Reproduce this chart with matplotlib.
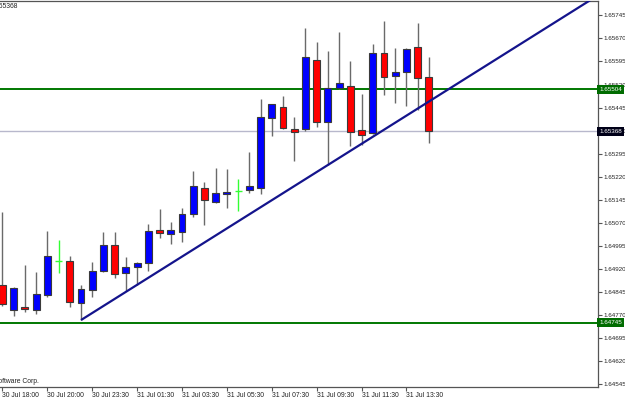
import numpy as np
import matplotlib
matplotlib.use("Agg")
import matplotlib.pyplot as plt

plt.rcParams['font.family'] = ['Liberation Sans', 'DejaVu Sans']

# M30 candles, oldest first
opens = [1.64867, 1.64786, 1.64797, 1.64786, 1.64835, 1.64946, 1.64946, 1.64808,
         1.64851, 1.64913, 1.64998, 1.64905, 1.64925, 1.64938, 1.65046, 1.65032,
         1.65041, 1.65098, 1.65183, 1.65139, 1.65164, 1.65173, 1.65177, 1.65184,
         1.65412, 1.65446, 1.65374, 1.65374, 1.65599, 1.65397, 1.65510, 1.65516,
         1.65372, 1.65361, 1.65622, 1.65549, 1.65560, 1.65641, 1.65544]
highs = [1.65105, 1.64861, 1.64932, 1.64911, 1.65044, 1.65014, 1.64960, 1.64866,
         1.64943, 1.65040, 1.65041, 1.64958, 1.64943, 1.65065, 1.65114, 1.65073,
         1.65117, 1.65239, 1.65204, 1.65247, 1.65244, 1.65213, 1.65300, 1.65472,
         1.65458, 1.65481, 1.65414, 1.65703, 1.65660, 1.65630, 1.65690, 1.65595,
         1.65489, 1.65651, 1.65727, 1.65638, 1.65638, 1.65720, 1.65608]
lows = [1.64799, 1.64766, 1.64779, 1.64773, 1.64829, 1.64907, 1.64795, 1.64753,
        1.64829, 1.64910, 1.64891, 1.64846, 1.64867, 1.64914, 1.65019, 1.65000,
        1.65006, 1.65090, 1.65063, 1.65135, 1.65119, 1.65109, 1.65168, 1.65163,
        1.65353, 1.65376, 1.65272, 1.65370, 1.65381, 1.65258, 1.65505, 1.65321,
        1.65323, 1.65358, 1.65486, 1.65461, 1.65451, 1.65437, 1.65331]
closes = [1.64806, 1.64858, 1.64788, 1.64838, 1.64960, 1.64946, 1.64811, 1.64854,
          1.64914, 1.64998, 1.64903, 1.64927, 1.64938, 1.65043, 1.65038, 1.65046,
          1.65098, 1.65191, 1.65144, 1.65166, 1.65169, 1.65173, 1.65191, 1.65415,
          1.65456, 1.65378, 1.65365, 1.65608, 1.65399, 1.65510, 1.65526, 1.65367,
          1.65356, 1.65624, 1.65546, 1.65562, 1.65635, 1.65542, 1.65368]

time_ticks = [0, 4, 8, 12, 16, 20, 24, 28, 32, 36]
time_labels = ["30 Jul 18:00", "30 Jul 20:00", "30 Jul 23:30", "31 Jul 01:30",
               "31 Jul 03:30", "31 Jul 05:30", "31 Jul 07:30", "31 Jul 09:30",
               "31 Jul 11:30", "31 Jul 13:30"]
price_ticks = [1.64545, 1.64620, 1.64695, 1.64770, 1.64845, 1.64920, 1.64995,
               1.65070, 1.65145, 1.65220, 1.65295, 1.65370, 1.65445, 1.65520,
               1.65595, 1.65670, 1.65745]

levels = [1.65504, 1.64745]      # green horizontal lines
bid = 1.65368                    # current price line
trend_idx = [7, 29]              # trendline anchored on these lows

o = np.array(opens); h = np.array(highs); l = np.array(lows); c = np.array(closes)
x = np.arange(len(o))

fig = plt.figure(figsize=(6.25, 3.99), dpi=100, facecolor='white')
ax = fig.add_axes([0.0, 0.0301, 0.9568, 0.9674])
ax.set_facecolor('white')

for lv in levels:
    ax.axhline(lv, color='#007800', lw=1.4, zorder=1)
ax.axhline(bid, color='#b8b8cc', lw=1.0, zorder=1)

up = c > o
down = c < o
doji = c == o
w = 0.62
ax.vlines(x[~doji], l[~doji], h[~doji], color='#6a6a6a', lw=1.0, zorder=2)
ax.bar(x[up], c[up] - o[up], bottom=o[up], width=w, color='#0000ff',
       edgecolor='#3a3a3a', linewidth=0.8, zorder=3)
ax.bar(x[down], o[down] - c[down], bottom=c[down], width=w, color='#ff0000',
       edgecolor='#3a3a3a', linewidth=0.8, zorder=3)
ax.vlines(x[doji], l[doji], h[doji], color='#33ff33', lw=1.0, zorder=3)
ax.hlines(o[doji], x[doji] - w / 2, x[doji] + w / 2, color='#33ff33', lw=1.0, zorder=3)

xmin, xmax = -0.22, 53.07
ymin, ymax = 1.64535, 1.65792

# trendline ray through two lows
i0, i1 = trend_idx
slope = (l[i1] - l[i0]) / (i1 - i0)
ax.plot([i0, xmax + 2], [l[i0], l[i0] + slope * (xmax + 2 - i0)],
        color='#14148c', lw=1.6, zorder=4, solid_capstyle='butt')

ax.set_xlim(xmin, xmax)
ax.set_ylim(ymin, ymax)

ax.yaxis.tick_right()
ax.set_yticks(price_ticks)
ax.set_yticklabels(["%.5f" % p for p in price_ticks])
ax.set_xticks(time_ticks)
ax.set_xticklabels(time_labels)
for t in ax.get_xticklabels():
    t.set_horizontalalignment('left')
ax.tick_params(axis='both', direction='out', length=3, width=0.8,
               colors='#555555', labelcolor='#222222')
ax.tick_params(axis='y', labelsize=4.5, pad=1.0)
ax.tick_params(axis='x', labelsize=4.9, pad=0.5)

for side in ['right', 'bottom', 'top']:
    ax.spines[side].set_color('#555555')
    ax.spines[side].set_linewidth(0.9)
ax.spines['left'].set_visible(False)

# price tags on the right scale
tr = ax.get_yaxis_transform()
for lv in levels:
    ax.text(1.002, lv, "%.5f" % lv, transform=tr, ha='left', va='center',
            fontsize=4.5, color='white', clip_on=False, zorder=10,
            bbox=dict(facecolor='#006c00', edgecolor='none', pad=1.3))
ax.text(1.002, bid, "%.5f" % bid, transform=tr, ha='left', va='center',
        fontsize=4.5, color='white', clip_on=False, zorder=10,
        bbox=dict(facecolor='#000018', edgecolor='none', pad=1.3))

fig.text(18 / 625, 1 - 7 / 399, "1.65368", ha='right', va='center',
         fontsize=4.9, color='#222222')
fig.text(39 / 625, 1 - 381 / 399, "\u00a9 2001-2009 MetaQuotes Software Corp.",
         ha='right', va='center', fontsize=4.9, color='#222222')

fig.savefig('out.png', dpi=100, facecolor='white')
